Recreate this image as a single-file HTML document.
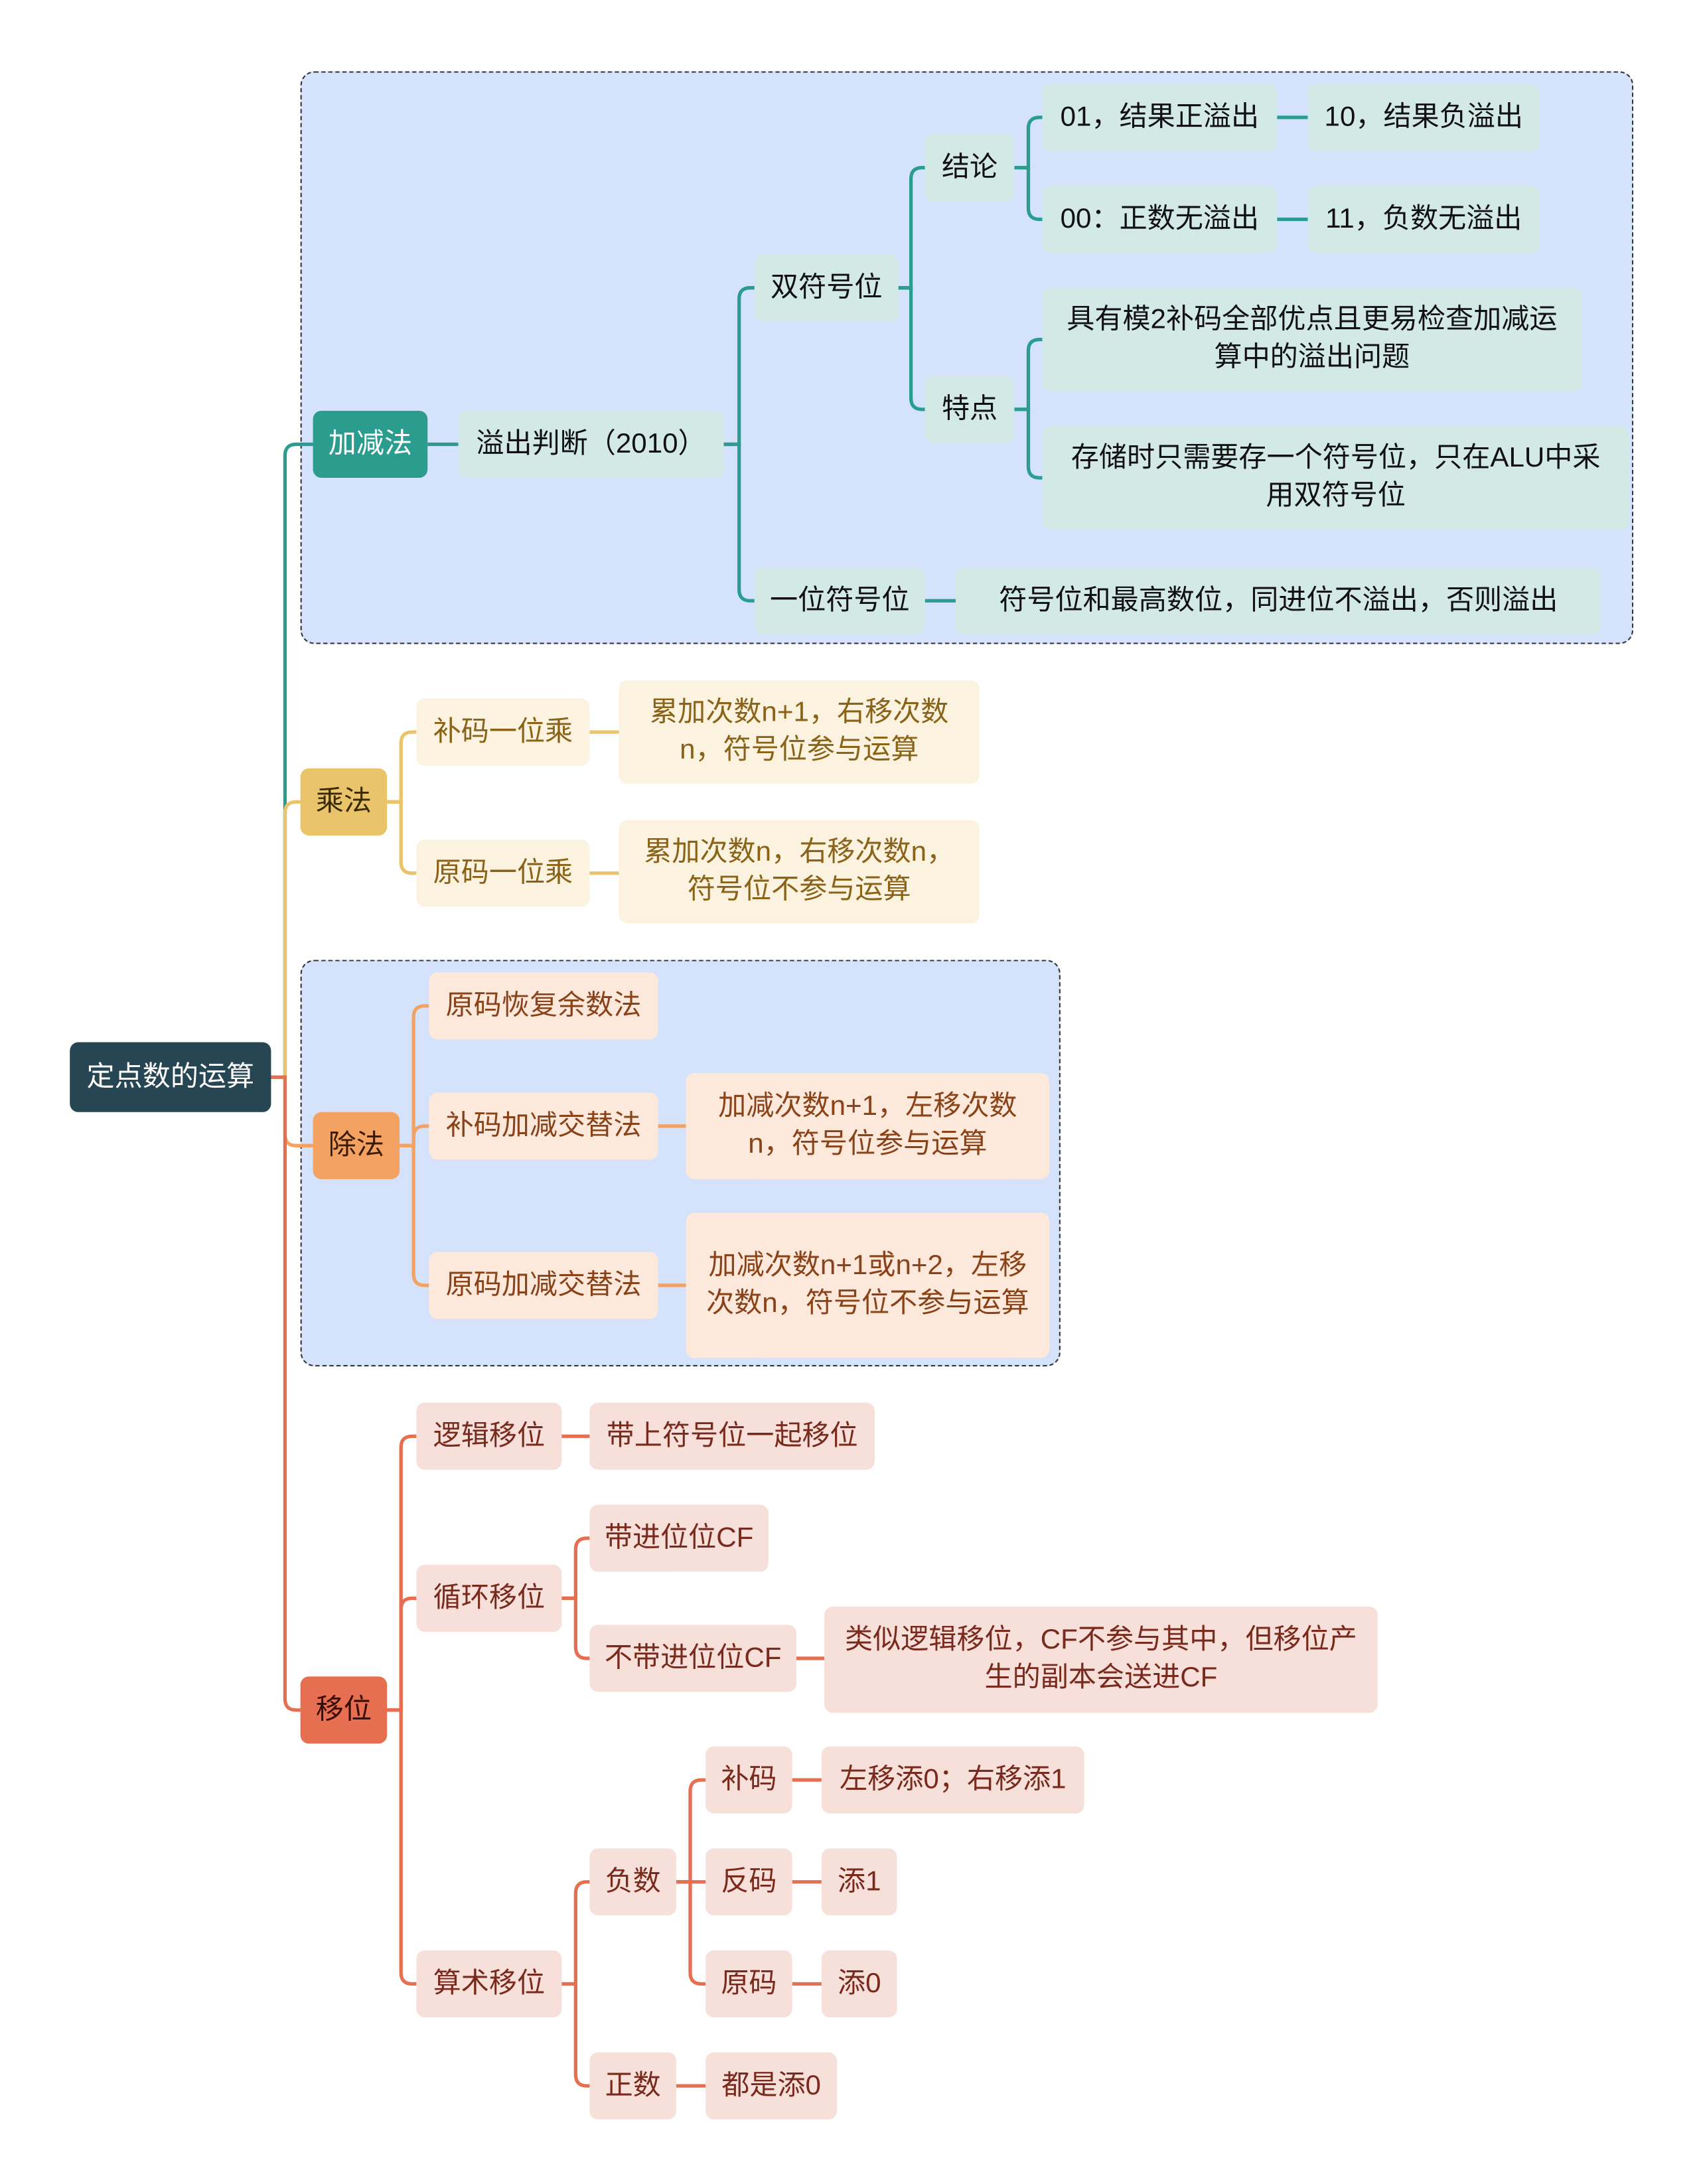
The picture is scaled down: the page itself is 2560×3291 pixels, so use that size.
<!DOCTYPE html>
<html><head><meta charset="utf-8"><style>
html,body{margin:0;padding:0;background:#fff;}
#wrap{width:2560px;height:3291px;overflow:hidden;position:relative;}
#s{position:absolute;left:0;top:0;width:1216px;height:1563px;transform:scale(2.10526);transform-origin:0 0;font-family:"Liberation Sans","Noto Sans CJK SC",sans-serif;}
.n{position:absolute;box-sizing:border-box;border-radius:6px;display:flex;align-items:center;justify-content:center;text-align:center;font-size:20px;line-height:27px;padding:0 8px;}
.m{padding:0 14px;}
.box{position:absolute;border:1.6px dashed #333;border-radius:10px;background:#d4e3fb;box-sizing:border-box;}
.t{background:#d3e9e6;color:#111;}
.y{background:#fbf3df;color:#8a6318;}
.o{background:#fde8dc;color:#8a4318;}
.r{background:#f8e0da;color:#7a2a1c;}
svg{position:absolute;left:0;top:0;}
</style></head><body><div id="wrap"><div id="s">
<div class="box" style="left:215px;top:51px;width:954px;height:410px"></div>
<div class="box" style="left:215px;top:687px;width:544px;height:291px"></div>
<svg id="lines" width="1216" height="1563"></svg>
<div class="n" style="left:50px;top:746px;width:144px;height:50px;background:#264653;color:#fff">定点数的运算</div>

<div class="n" style="left:224px;top:294px;width:82px;height:48px;background:#2a9d8f;color:#fff">加减法</div>
<div class="n t" style="left:328px;top:294px;width:190px;height:48px">溢出判断（2010）</div>
<div class="n t" style="left:540px;top:182px;width:103px;height:48px">双符号位</div>
<div class="n t" style="left:540px;top:406px;width:122px;height:48px">一位符号位</div>
<div class="n t" style="left:662px;top:96px;width:64px;height:48px">结论</div>
<div class="n t" style="left:662px;top:269px;width:64px;height:48px">特点</div>
<div class="n t" style="left:746px;top:60px;width:168px;height:48px">01，结果正溢出</div>
<div class="n t" style="left:936px;top:60px;width:166px;height:48px">10，结果负溢出</div>
<div class="n t" style="left:746px;top:133px;width:168px;height:48px">00：正数无溢出</div>
<div class="n t" style="left:936px;top:133px;width:166px;height:48px">11，负数无溢出</div>
<div class="n t m" style="left:746px;top:206px;width:386px;height:74px">具有模2补码全部优点且更易检查加减运算中的溢出问题</div>
<div class="n t" style="left:746px;top:305px;width:420px;height:74px;padding:0 18px">存储时只需要存一个符号位，只在ALU中采用双符号位</div>
<div class="n t" style="left:684px;top:406px;width:462px;height:48px">符号位和最高数位，同进位不溢出，否则溢出</div>

<div class="n" style="left:215px;top:550px;width:62px;height:48px;background:#e9c46a;color:#3a2a00">乘法</div>
<div class="n y m" style="left:298px;top:500px;width:124px;height:48px;padding:0 8px">补码一位乘</div>
<div class="n y" style="left:443px;top:487px;width:258px;height:74px;padding:0 10px">累加次数n+1，右移次数n，符号位参与运算</div>
<div class="n y" style="left:298px;top:601px;width:124px;height:48px">原码一位乘</div>
<div class="n y" style="left:443px;top:587px;width:258px;height:74px;padding:0 12px">累加次数n，右移次数n，符号位不参与运算</div>

<div class="n" style="left:224px;top:796px;width:62px;height:48px;background:#f4a261;color:#3a1a00">除法</div>
<div class="n o" style="left:307px;top:696px;width:164px;height:48px">原码恢复余数法</div>
<div class="n o" style="left:307px;top:782px;width:164px;height:48px">补码加减交替法</div>
<div class="n o" style="left:491px;top:768px;width:260px;height:76px;padding:0 10px">加减次数n+1，左移次数n，符号位参与运算</div>
<div class="n o" style="left:307px;top:896px;width:164px;height:48px">原码加减交替法</div>
<div class="n o" style="left:491px;top:868px;width:260px;height:104px;padding:0 10px">加减次数n+1或n+2，左移次数n，符号位不参与运算</div>

<div class="n" style="left:215px;top:1200px;width:62px;height:48px;background:#e76f51;color:#3a0a00">移位</div>
<div class="n r" style="left:298px;top:1004px;width:104px;height:48px">逻辑移位</div>
<div class="n r" style="left:422px;top:1004px;width:204px;height:48px">带上符号位一起移位</div>
<div class="n r" style="left:298px;top:1120px;width:104px;height:48px">循环移位</div>
<div class="n r" style="left:422px;top:1077px;width:128px;height:48px">带进位位CF</div>
<div class="n r" style="left:422px;top:1163px;width:148px;height:48px">不带进位位CF</div>
<div class="n r" style="left:590px;top:1150px;width:396px;height:76px;padding:0 12px">类似逻辑移位，CF不参与其中，但移位产生的副本会送进CF</div>
<div class="n r" style="left:298px;top:1396px;width:104px;height:48px">算术移位</div>
<div class="n r" style="left:422px;top:1323px;width:62px;height:48px">负数</div>
<div class="n r" style="left:422px;top:1469px;width:62px;height:48px">正数</div>
<div class="n r" style="left:505px;top:1250px;width:62px;height:48px">补码</div>
<div class="n r" style="left:588px;top:1250px;width:188px;height:48px">左移添0；右移添1</div>
<div class="n r" style="left:505px;top:1323px;width:62px;height:48px">反码</div>
<div class="n r" style="left:588px;top:1323px;width:54px;height:48px">添1</div>
<div class="n r" style="left:505px;top:1396px;width:62px;height:48px">原码</div>
<div class="n r" style="left:588px;top:1396px;width:54px;height:48px">添0</div>
<div class="n r" style="left:505px;top:1469px;width:94px;height:48px">都是添0</div>
</div></div>
<script>
var L=[
[194,771,204,224,318,'#2a9d8f'],
[194,771,204,215,574,'#e9c46a'],
[194,771,204,224,820,'#f4a261'],
[194,771,204,215,1224,'#e76f51'],
[306,318,317,328,318,'#2a9d8f'],
[518,318,529,540,206,'#2a9d8f'],
[518,318,529,540,430,'#2a9d8f'],
[643,206,652,662,120,'#2a9d8f'],
[643,206,652,662,293,'#2a9d8f'],
[726,120,736,746,84,'#2a9d8f'],
[726,120,736,746,157,'#2a9d8f'],
[726,293,736,746,243,'#2a9d8f'],
[726,293,736,746,342,'#2a9d8f'],
[914,84,925,936,84,'#2a9d8f'],
[914,157,925,936,157,'#2a9d8f'],
[662,430,673,684,430,'#2a9d8f'],
[277,574,287,298,524,'#e9c46a'],
[277,574,287,298,625,'#e9c46a'],
[422,524,432,443,524,'#e9c46a'],
[422,625,432,443,625,'#e9c46a'],
[286,820,296,307,720,'#f4a261'],
[286,820,296,307,806,'#f4a261'],
[286,820,296,307,920,'#f4a261'],
[471,806,481,491,806,'#f4a261'],
[471,920,481,491,920,'#f4a261'],
[277,1224,287,298,1028,'#e76f51'],
[277,1224,287,298,1144,'#e76f51'],
[277,1224,287,298,1420,'#e76f51'],
[402,1028,412,422,1028,'#e76f51'],
[402,1144,412,422,1101,'#e76f51'],
[402,1144,412,422,1187,'#e76f51'],
[570,1187,580,590,1187,'#e76f51'],
[402,1420,412,422,1347,'#e76f51'],
[402,1420,412,422,1493,'#e76f51'],
[484,1347,494,505,1274,'#e76f51'],
[484,1347,494,505,1347,'#e76f51'],
[484,1347,494,505,1420,'#e76f51'],
[567,1274,577,588,1274,'#e76f51'],
[567,1347,577,588,1347,'#e76f51'],
[567,1420,577,588,1420,'#e76f51'],
[484,1493,494,505,1493,'#e76f51']];
var s='';
L.forEach(function(a){var px=a[0],py=a[1],mx=a[2],cx=a[3],cy=a[4],c=a[5],d;
 if(Math.abs(cy-py)<2){d='M'+px+' '+py+'H'+cx;}
 else{var r=8,sg=cy>py?1:-1;d='M'+px+' '+py+'H'+mx+'V'+(cy-sg*r)+'Q'+mx+' '+cy+' '+(mx+r)+' '+cy+'H'+cx;}
 s+='<path d="'+d+'" fill="none" stroke="'+c+'" stroke-width="2.5"/>';});
document.getElementById('lines').innerHTML=s;
</script>
</body></html>
